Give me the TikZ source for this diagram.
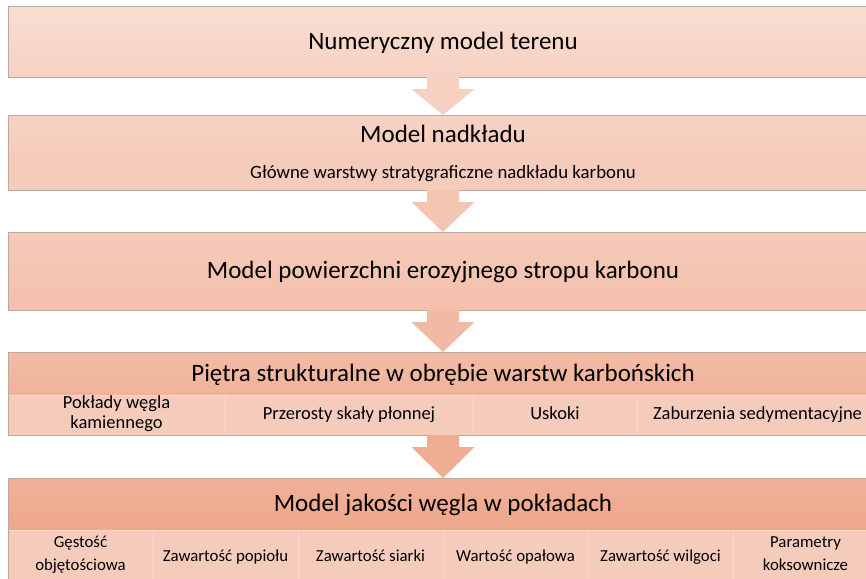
\documentclass[tikz,border=0pt]{standalone}
\usepackage{fontspec}
\setmainfont{Carlito}
\usetikzlibrary{calc}
\definecolor{bordc}{HTML}{BBA9A2}
\definecolor{c1t}{HTML}{F9DDD1}
\definecolor{c1b}{HTML}{F6D2C4}
\definecolor{c2t}{HTML}{F7D3C5}
\definecolor{c2b}{HTML}{F5CBBB}
\definecolor{c3t}{HTML}{F5C9B8}
\definecolor{c3b}{HTML}{F3C0AC}
\definecolor{c4t}{HTML}{F2BCA7}
\definecolor{c4b}{HTML}{F0B29A}
\definecolor{c5t}{HTML}{F0B199}
\definecolor{c5b}{HTML}{EEA78C}
\definecolor{cellc}{HTML}{F5CCBC}
\definecolor{cellline}{HTML}{F8D9CE}
\definecolor{a1}{HTML}{F6D0C1}
\definecolor{a2}{HTML}{F4C5B3}
\definecolor{a3}{HTML}{F2BAA4}
\definecolor{a4}{HTML}{EFAD93}
\begin{document}
\begin{tikzpicture}[x=1pt,y=-1pt,
  band/.style={inner sep=0pt, outer sep=0pt, anchor=north west, minimum width=870pt},
  frame/.style={draw=bordc, line width=1pt},
  cell/.style={inner sep=0pt, outer sep=0pt, anchor=north west, fill=cellc, draw=cellline, line width=0.8pt, align=center, font=\fontsize{18.5}{20.5}\selectfont, execute at begin node=\strut, execute at end node=\strut},
  cellq/.style={cell, minimum width=145pt, minimum height=54pt, font=\fontsize{16.8}{23}\selectfont},
  ttl/.style={font=\fontsize{25}{28}\selectfont, text=black, yshift=-2pt, execute at begin node=\strut},
  sub/.style={font=\fontsize{18.8}{20}\selectfont, text=black, yshift=-1.5pt, execute at begin node=\strut}]
\useasboundingbox (0,0) rectangle (866,578);
\fill[white] (0,0) rectangle (866,578);
\begin{scope}
\clip (0,0) rectangle (866,578);
% Box 1
\node[band, minimum height=70pt, top color=c1t, bottom color=c1b, frame] (b1) at (8,7) {};
\node[ttl] (t1) at (b1.center) {Numeryczny model terenu};
% Box 2
\node[band, minimum height=40pt, top color=c2t, bottom color=c2b] (b2) at (8,115) {};
\node[band, minimum height=35pt, fill=c2b] (b2s) at (8,155) {};
\draw[frame] (b2.north west) rectangle (b2s.south east);
\node[ttl] (t2) at (b2.center) {Model nadkładu};
\node[sub] (s2) at (b2s.center) {Główne warstwy stratygraficzne nadkładu karbonu};
% Box 3
\node[band, minimum height=78pt, top color=c3t, bottom color=c3b, frame] (b3) at (8,232) {};
\node[ttl] (t3) at (b3.center) {Model powierzchni erozyjnego stropu karbonu};
% Box 4
\node[band, minimum height=43pt, top color=c4t, bottom color=c4b] (b4) at (8,352) {};
\node[cell, minimum width=217pt, minimum height=40pt] (k1) at (8,395) {Pokłady węgla\\kamiennego};
\node[cell, minimum width=248pt, minimum height=40pt] (k2) at (k1.north east) {Przerosty skały płonnej};
\node[cell, minimum width=164pt, minimum height=40pt] (k3) at (k2.north east) {Uskoki};
\node[cell, minimum width=241pt, minimum height=40pt] (k4) at (k3.north east) {Zaburzenia sedymentacyjne};
\draw[frame] (b4.north west) rectangle (k4.south east);
\node[ttl] (t4) at (b4.center) {Piętra strukturalne w obrębie warstw karbońskich};
% Box 5
\node[band, minimum height=52pt, top color=c5t, bottom color=c5b] (b5) at (8,478) {};
\node[cellq] (q1) at (8,530) {Gęstość\\objętościowa};
\node[cellq] (q2) at (q1.north east) {Zawartość popiołu};
\node[cellq] (q3) at (q2.north east) {Zawartość siarki};
\node[cellq] (q4) at (q3.north east) {Wartość opałowa};
\node[cellq] (q5) at (q4.north east) {Zawartość wilgoci};
\node[cellq] (q6) at (q5.north east) {Parametry\\koksownicze};
\draw[frame] (b5.north west) rectangle (q6.south east);
\node[ttl] (t5) at (b5.center) {Model jakości węgla w pokładach};
% Arrows
\fill[a1] ($(b1.south)+(-16,0)$) -- ($(b1.south)+(16,0)$) -- ($(b1.south)+(16,12)$) -- ($(b1.south)+(31.5,12)$) -- (b2.north) -- ($(b1.south)+(-31.5,12)$) -- ($(b1.south)+(-16,12)$) -- cycle;
\fill[a2] ($(b2s.south)+(-16,0)$) -- ($(b2s.south)+(16,0)$) -- ($(b2s.south)+(16,12)$) -- ($(b2s.south)+(31.5,12)$) -- (b3.north) -- ($(b2s.south)+(-31.5,12)$) -- ($(b2s.south)+(-16,12)$) -- cycle;
\fill[a3] ($(b3.south)+(-16,0)$) -- ($(b3.south)+(16,0)$) -- ($(b3.south)+(16,12)$) -- ($(b3.south)+(31.5,12)$) -- (b4.north) -- ($(b3.south)+(-31.5,12)$) -- ($(b3.south)+(-16,12)$) -- cycle;
\coordinate (m4) at ($(k1.south west)!0.5!(k4.south east)$);
\fill[a4] ($(m4)+(-16,0)$) -- ($(m4)+(16,0)$) -- ($(m4)+(16,12)$) -- ($(m4)+(31.5,12)$) -- (b5.north) -- ($(m4)+(-31.5,12)$) -- ($(m4)+(-16,12)$) -- cycle;
\end{scope}
\end{tikzpicture}
\end{document}
